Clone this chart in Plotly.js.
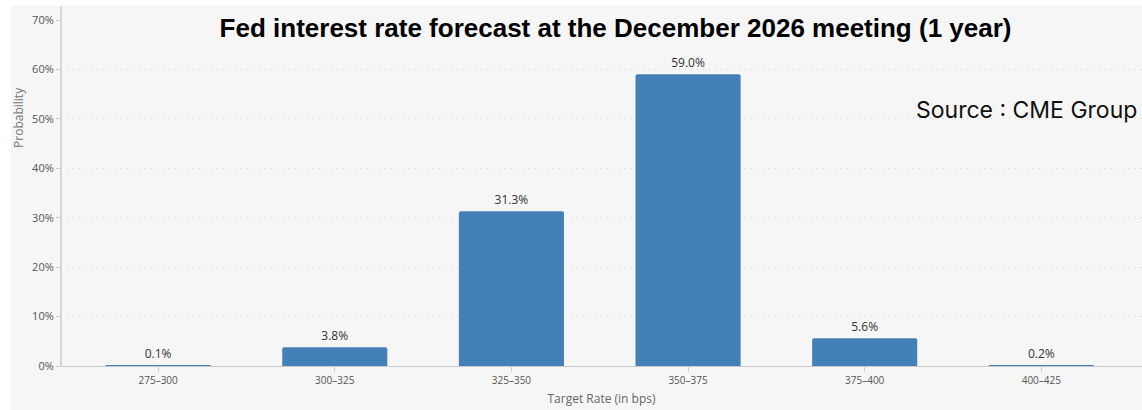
<!DOCTYPE html>
<html>
<head>
<meta charset="utf-8">
<script src="https://cdn.plot.ly/plotly-3.0.1.min.js"></script>
<style>
  html, body { margin: 0; padding: 0; background: #ffffff; width: 1142px; height: 410px; overflow: hidden; }
  #chart { position: absolute; left: 11px; top: 6px; width: 1131px; height: 404px; }
</style>
</head>
<body>
<div id="chart"></div>
<script>
const categories = ["275\u2013300", "300\u2013325", "325\u2013350", "350\u2013375", "375\u2013400", "400\u2013425"];
const probabilities = [0.1, 3.8, 31.3, 59.0, 5.6, 0.2];
const yTickValues = [0, 10, 20, 30, 40, 50, 60, 70];
const yTickLabels = ["0%", "10%", "20%", "30%", "40%", "50%", "60%", "70%"];

const trace = {
  type: "bar",
  x: categories,
  y: probabilities,
  text: probabilities.map(v => v.toFixed(1) + "%"),
  textposition: "outside",
  textfont: { family: "Open Sans, DejaVu Sans, sans-serif", size: 12, color: "#333333" },
  cliponaxis: false,
  hoverinfo: "x+y",
  marker: {
    color: "#4380b7",
    line: { width: 0 },
    cornerradius: 2
  }
};

const layout = {
  width: 1131,
  height: 404,
  margin: { l: 50, r: 0, t: 14, b: 44 },
  paper_bgcolor: "#f6f6f6",
  plot_bgcolor: "#f6f6f6",
  bargap: 0.405,
  showlegend: false,
  title: {
    text: "<b>Fed interest rate forecast at the December 2026 meeting (1 year)</b>",
    font: { family: "Liberation Sans, Arial, sans-serif", size: 26, color: "#000000" },
    xref: "paper", x: 0.513, xanchor: "center",
    yref: "container", y: 0.9455, yanchor: "middle"
  },
  xaxis: {
    type: "category",
    range: [-0.55, 5.57],
    showgrid: false,
    showline: true,
    linecolor: "#c8c8c8",
    linewidth: 1,
    ticks: "outside",
    ticklen: 5,
    tickcolor: "#d0d0d0",
    tickfont: { family: "Open Sans, DejaVu Sans, sans-serif", size: 10, color: "#555555" },
    title: {
      text: "Target Rate (in bps)",
      font: { family: "Open Sans, DejaVu Sans, sans-serif", size: 12, color: "#666666" },
      standoff: 8
    },
    fixedrange: true
  },
  yaxis: {
    range: [0, 70],
    tickvals: yTickValues,
    ticktext: yTickLabels,
    showgrid: true,
    gridcolor: "#cfcfcf",
    griddash: "1px,5px",
    gridwidth: 1,
    zeroline: false,
    showline: false,
    ticks: "outside",
    ticklen: 4,
    tickcolor: "#cccccc",
    tickfont: { family: "Open Sans, DejaVu Sans, sans-serif", size: 11, color: "#555555" },
    fixedrange: true
  },
  shapes: [
    {
      type: "line", xref: "paper", yref: "paper",
      x0: 0, x1: 0, y0: 0, y1: 1.04,
      line: { color: "#cccccc", width: 1.5 }
    }
  ],
  annotations: [
    {
      text: "Source : CME Group",
      xref: "paper", yref: "paper",
      x: 0.789, y: 0.74,
      xanchor: "left", yanchor: "middle",
      showarrow: false,
      font: { family: "Inter, Noto Sans, sans-serif", size: 23, color: "#111111" }
    },
    {
      text: "Probability",
      xref: "paper", yref: "paper",
      x: 0, xshift: -42, y: 0.717,
      xanchor: "center", yanchor: "middle",
      textangle: -90,
      showarrow: false,
      font: { family: "Open Sans, DejaVu Sans, sans-serif", size: 12, color: "#777777" }
    }
  ]
};

Plotly.newPlot("chart", [trace], layout, { displayModeBar: false });
</script>
</body>
</html>
